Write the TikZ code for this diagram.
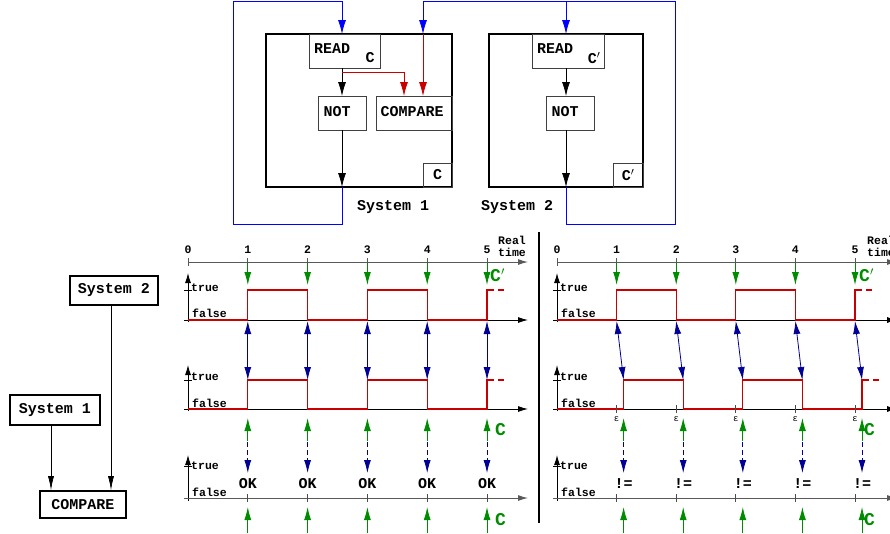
\documentclass[tikz,border=0pt]{standalone}
\usepackage{fontspec}
\setmonofont{Liberation Mono}
\usetikzlibrary{arrows.meta}
\definecolor{wireblue}{RGB}{0,0,255}
\definecolor{navy}{RGB}{0,0,150}
\definecolor{grn}{RGB}{0,140,0}
\definecolor{rd}{RGB}{200,0,0}
\newcommand\myLf{\ttfamily\bfseries\fontsize{15}{17}\selectfont}
\newcommand\mySf{\ttfamily\bfseries\fontsize{11.5}{12}\selectfont}
\newcommand\myCf{\ttfamily\bfseries\fontsize{18}{18}\selectfont}
\newcommand\myEf{\ttfamily\fontsize{9}{9}\selectfont}
\newcommand\myPrime{\ensuremath{'}}
\begin{document}
\begin{tikzpicture}[x=1pt,y=-1pt,
  box/.style={draw=black!75, line width=0.8pt, inner sep=0pt, font=\myLf},
  bigbox/.style={draw, line width=2.6pt, inner sep=0pt},
  lbox/.style={draw, line width=1.6pt, inner sep=0pt, font=\myLf},
  tip/.style={-{Latex[length=14pt,width=8pt]}},
  gtip/.style={grn, line width=0.9pt, -{Latex[length=13pt,width=7pt]}},
  ntip/.style={navy, line width=0.8pt, -{Latex[length=13pt,width=7pt]}},
  dtip/.style={navy, line width=0.8pt, {Latex[length=13pt,width=7pt]}-{Latex[length=13pt,width=7pt]}},
  axg/.style={black!65, line width=1pt, -{Latex[length=10pt,width=6pt]}},
  axk/.style={black, line width=0.9pt, -{Latex[length=10pt,width=6pt]}},
  sig/.style={rd, line width=1.1pt},
  lab/.style={font=\myLf, inner sep=0pt},
  sml/.style={font=\mySf, inner sep=0pt},
  clab/.style={font=\myCf, text=grn, inner sep=0pt, anchor=west}
]
\useasboundingbox (0,0) rectangle (890,533);
\clip (0,0) rectangle (890,533);

% ---------------- top: System 1 ----------------
\node[bigbox, minimum width=186, minimum height=153] (sysA) at (359,110.5) {};
\node[box, minimum width=71, minimum height=34] (readA) at (344.5,51) {};
\node[lab] (readAt) at (332,49) {READ};
\node[lab] (readAc) at (370,58) {C};
\node[box, minimum width=48, minimum height=34] (notA) at (342,113) {};
\node[lab] (notAt) at (337,112) {NOT};
\node[box, minimum width=76, minimum height=34] (cmpA) at (414,113) {};
\node[lab] (cmpAt) at (412,112) {COMPARE};
\node[box, minimum width=29, minimum height=24] (clkA) at (437.5,175) {C};
\node[lab] (sysAl) at (393,207) {System 1};

\draw[tip, line width=0.8pt] (342,68) -- (342,96);
\draw[rd, tip, line width=0.8pt] (342,72) -- (404,72) -- (404,96);
\draw[tip, line width=0.8pt] (342,130) -- (342,187);
\draw[wireblue, tip, line width=0.8pt] (342,187) -- (342,224) -- (233,224) -- (233,1) -- (342,1) -- (342,34);

% ---------------- top: System 2 ----------------
\node[bigbox, minimum width=154, minimum height=153] (sysB) at (566,110.5) {};
\node[box, minimum width=72, minimum height=34] (readB) at (568,51) {};
\node[lab] (readBt) at (555,49) {READ};
\node[lab] (readBc) at (594,58) {C\myPrime};
\node[box, minimum width=48, minimum height=34] (notB) at (570.5,113) {};
\node[lab] (notBt) at (565,112) {NOT};
\node[box, minimum width=30, minimum height=24] (clkB) at (628,175) {C\myPrime};
\node[lab] (sysBl) at (517,207) {System 2};

\draw[tip, line width=0.8pt] (566,68) -- (566,96);
\draw[tip, line width=0.8pt] (566,130) -- (566,187);
\draw[wireblue, tip, line width=0.8pt] (566,187) -- (566,224) -- (675,224) -- (675,1) -- (423,1) -- (423,34);
\draw[wireblue, tip, line width=0.8pt] (566,1) -- (566,34);
\draw[rd, tip, line width=0.8pt] (423,34) -- (423,96);

% ---------------- left: block diagram ----------------
\node[lbox, minimum width=88, minimum height=29] (s2) at (114,290.5) {System 2};
\node[lbox, minimum width=90, minimum height=30] (s1) at (55,410) {System 1};
\node[lbox, minimum width=86, minimum height=27] (cmp) at (83,504.5) {COMPARE};
\draw[-{Latex[length=14pt,width=6pt]}, line width=0.7pt] (s1.south -| 51,0) -- (cmp.north -| 51,0);
\draw[-{Latex[length=14pt,width=6pt]}, line width=0.7pt] (s2.south -| 111,0) -- (cmp.north -| 111,0);

% separator
\draw[line width=1.8pt] (539,232) -- (539,523);

% ---------------- timing panels ----------------
\foreach \ox/\sp/\e/\res in {188/59.8/0/OK,557/59.6/7/{!=}} {
  % real time axis
  \draw[axg] (\ox,262) -- ++(340,0);
  \node[sml, align=right, anchor=east] at (\ox+338,246) {Real\\time};
  \foreach \i in {0,...,5} {
    \draw[black!65, line width=1pt] (\ox+\i*\sp,258) -- ++(0,8);
    \node[sml] at (\ox+\i*\sp,250) {\i};
  }
  \foreach \i in {1,...,5} {
    \draw[gtip] (\ox+\i*\sp,263) -- (\ox+\i*\sp,285);
  }
  \node[clab] at (\ox+302,275) {C\myPrime};

  % signal 1
  \draw[axk] (\ox,322) -- (\ox,273);
  \draw[line width=0.8pt] (\ox-4,290) -- (\ox+4,290);
  \draw[axk] (\ox-4,320) -- (\ox+340,320);
  \node[sml, anchor=west] at (\ox+3,288) {true};
  \node[sml, anchor=west] at (\ox+4,313) {false};
  \draw[sig] (\ox,320) -| (\ox+\sp,290) -| (\ox+2*\sp,320) -| (\ox+3*\sp,290)
     -| (\ox+4*\sp,320) -| (\ox+5*\sp,290) -- ++(7,0);
  \draw[sig] (\ox+5*\sp+11,290) -- ++(6,0);

  % sync arrows
  \foreach \i in {1,...,5} {
    \draw[dtip] (\ox+\i*\sp,321) -- (\ox+\i*\sp+\e,380);
  }

  % signal 2
  \draw[axk] (\ox,411) -- (\ox,365);
  \draw[line width=0.8pt] (\ox-4,380) -- (\ox+4,380);
  \draw[axk] (\ox-4,409) -- (\ox+340,409);
  \node[sml, anchor=west] at (\ox+3,377) {true};
  \node[sml, anchor=west] at (\ox+4,403) {false};
  \draw[sig] (\ox,409) -| (\ox+\sp+\e,380) -| (\ox+2*\sp+\e,409) -| (\ox+3*\sp+\e,380)
     -| (\ox+4*\sp+\e,409) -| (\ox+5*\sp+\e,380) -- ++(7,0);
  \draw[sig] (\ox+5*\sp+\e+11,380) -- ++(6,0);
  \foreach \i in {1,...,5} {
    \draw[gtip] (\ox+\i*\sp+\e,441) -- (\ox+\i*\sp+\e,418);
    \draw[navy, line width=0.8pt, dashed, dash pattern=on 5pt off 3pt] (\ox+\i*\sp+\e,442) -- (\ox+\i*\sp+\e,462);
    \draw[ntip] (\ox+\i*\sp+\e,458) -- (\ox+\i*\sp+\e,473);
    \node[sml] at (\ox+\i*\sp+\e,484) {\myLf\res};
    \draw[gtip] (\ox+\i*\sp+\e,533) -- (\ox+\i*\sp+\e,507);
  }
  \node[clab] at (\ox+307,430) {C};
  \node[clab] at (\ox+307,520) {C};

  % signal 3
  \draw[axk] (\ox,501) -- (\ox,455);
  \draw[line width=0.8pt] (\ox-4,466) -- (\ox+4,466);
  \draw[axg] (\ox-4,498) -- (\ox+340,498);
  \node[sml, anchor=west] at (\ox+3,466) {true};
  \node[sml, anchor=west] at (\ox+4,492) {false};
  \foreach \i in {1,...,5} {
    \draw[black!70, line width=1pt] (\ox+\i*\sp,494) -- ++(0,8);
  }
}
% epsilon ticks in panel B
\foreach \i in {1,...,5} {
  \draw[black!70, line width=1pt] (557+\i*59.6,405) -- ++(0,8);
  \node[font=\myEf, inner sep=0pt] at (557+\i*59.6,419) {ε};
}
\end{tikzpicture}
\end{document}
